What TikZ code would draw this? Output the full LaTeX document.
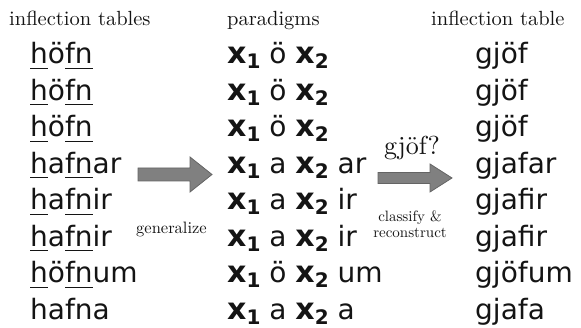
\documentclass[tikz,border=0pt]{standalone}
\usepackage{fontspec}
\setmainfont{lmroman10-regular}[Extension=.otf]
\newfontfamily\wordfont{DejaVu Sans}
\definecolor{arrowfill}{RGB}{128,128,128}
\definecolor{arrowline}{RGB}{100,100,100}
\definecolor{ink}{RGB}{20,20,20}

% underline a part of a word (stem consonants)
\newcommand\ulpart[1]{\setbox0\hbox{#1}\rlap{\color{ink}\rule[-5pt]{\wd0}{1.4pt}}\box0}
% bold variable with subscript index
\newcommand\varx[1]{{\fontsize{30}{30}\selectfont\bfseries x}\raisebox{-5pt}{\fontsize{20}{20}\selectfont\bfseries #1}}

\tikzset{
  head/.style={anchor=base west, inner sep=0pt, text=ink, font=\fontsize{20.5}{20.5}\selectfont},
  word/.style={anchor=base west, inner sep=0pt, text=ink, font=\wordfont\fontsize{28}{28}\selectfont},
  note/.style={anchor=base west, inner sep=0pt, text=ink, font=\fontsize{16.5}{16.5}\selectfont},
  bigarrow/.style={fill=arrowfill, draw=arrowline, line width=0.8pt, line join=miter},
}

\begin{document}
\begin{tikzpicture}[x=1pt, y=-1pt]
\useasboundingbox (0,0) rectangle (581,328);

% column headings
\node[head] (h1) at (9,26) {inflection tables};
\node[head] (h2) at (227,26) {paradigms};
\node[head] (h3) at (431,26) {inflection table};

% inflection tables (left column)
\foreach \w [count=\i] in {
  {\ulpart{h}ö\ulpart{fn}},
  {\ulpart{h}ö\ulpart{fn}},
  {\ulpart{h}ö\ulpart{fn}},
  {\ulpart{h}a\ulpart{fn}ar},
  {\ulpart{h}a\ulpart{fn}ir},
  {\ulpart{h}a\ulpart{fn}ir},
  {\ulpart{h}ö\ulpart{fn}um},
  {hafna}}
  \node[word] (l\i) at (30,{64+36.5*(\i-1)}) {\w};

% paradigms (middle column)
\foreach \w [count=\i] in {
  {\varx{1} ö \varx{2}},
  {\varx{1} ö \varx{2}},
  {\varx{1} ö \varx{2}},
  {\varx{1} a \varx{2} ar},
  {\varx{1} a \varx{2} ir},
  {\varx{1} a \varx{2} ir},
  {\varx{1} ö \varx{2} um},
  {\varx{1} a \varx{2} a}}
  \node[word] (m\i) at (227,{64+36.5*(\i-1)}) {\w};

% reconstructed table (right column)
\foreach \w [count=\i] in {gjöf, gjöf, gjöf, gjafar, gjafir, gjafir, gjöfum, gjafa}
  \node[word] (r\i) at (475,{64+36.5*(\i-1)}) {\w};

% block arrows
\coordinate (a1) at (138,174.5);
\draw[bigarrow] (a1) ++(0,-6.5) -- ++(52,0) -- ++(0,-11) -- ++(22,17.5)
  -- ++(-22,17.5) -- ++(0,-11) -- ++(-52,0) -- cycle;
\coordinate (a2) at (378,178);
\draw[bigarrow] (a2) ++(0,-5.5) -- ++(52,0) -- ++(0,-8.5) -- ++(22,14)
  -- ++(-22,14) -- ++(0,-8.5) -- ++(-52,0) -- cycle;

% arrow labels
\node[note] (gen) at (136,234) {generalize};
\node[anchor=base west, inner sep=0pt, text=ink, font=\fontsize{26}{26}\selectfont] (q) at (384,155) {gjöf?};
\node[anchor=base, inner sep=0pt, text=ink, font=\fontsize{15}{15}\selectfont] (c1) at (410,222) {classify \&};
\node[anchor=base, inner sep=0pt, text=ink, font=\fontsize{15}{15}\selectfont] (c2) at (410,238) {reconstruct};
\end{tikzpicture}
\end{document}
